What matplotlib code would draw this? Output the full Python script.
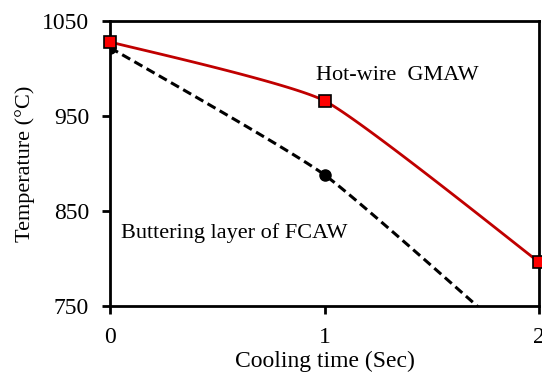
import numpy as np
import matplotlib.pyplot as plt

plt.rcParams['font.family'] = ['Liberation Serif', 'DejaVu Serif']

# cooling time (s) and temperature (deg C)
cooling_time = [0, 1, 2]
hot_wire_gmaw = [1028, 966, 796]
buttering_fcaw = [1022, 888, 692]


def smooth(xs, ys, k=1 / 12, n=60):
    # smoothed line: cubic Bezier through the points
    p = np.column_stack([xs, ys]).astype(float)
    ext = np.vstack([p[0], p, p[-1]])
    t = np.linspace(0, 1, n)[:, None]
    out = []
    for i in range(len(p) - 1):
        p0, p1 = p[i], p[i + 1]
        c1 = p0 + (ext[i + 2] - ext[i]) * k
        c2 = p1 - (ext[i + 3] - ext[i + 1]) * k
        seg = ((1 - t) ** 3) * p0 + 3 * ((1 - t) ** 2) * t * c1 \
            + 3 * (1 - t) * t ** 2 * c2 + t ** 3 * p1
        out.append(seg)
    out = np.vstack(out)
    return out[:, 0], out[:, 1]


fig = plt.figure(figsize=(5.42, 3.76), dpi=100)
ax = fig.add_axes([0.203, 0.186, 0.792, 0.758])

sx, sy = smooth(cooling_time, buttering_fcaw)
ax.plot(sx, sy, color='black', lw=2.2, ls=(0, (3, 1.6)))
ax.plot(cooling_time, buttering_fcaw, 'o', color='black', ms=8, zorder=3)

sx, sy = smooth(cooling_time, hot_wire_gmaw)
ax.plot(sx, sy, color='#c00000', lw=2)
ax.plot(cooling_time, hot_wire_gmaw, 's', color='red', mec='black', mew=1.2,
        ms=8, zorder=4, clip_on=False)

ax.text(0.96, 993, 'Hot-wire  GMAW', fontsize=16, va='center')
ax.text(0.05, 827, 'Buttering layer of FCAW', fontsize=16, va='center')

ax.set_xlim(0, 2)
ax.set_ylim(750, 1050)
ax.set_xticks([0, 1, 2])
ax.set_yticks([750, 850, 950, 1050])
ax.tick_params(labelsize=17, width=2, length=6, direction='out', pad=9)
for s in ax.spines.values():
    s.set_linewidth(2)

ax.set_xlabel('Cooling time (Sec)', fontsize=17, labelpad=2)
ax.set_ylabel('Temperature (°C)', fontsize=16, labelpad=5)

fig.savefig('out.png', dpi=100)
